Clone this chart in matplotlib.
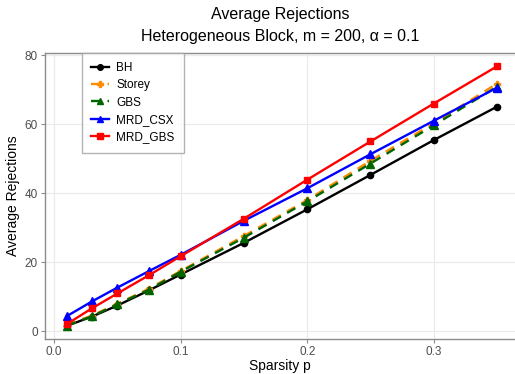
import matplotlib
matplotlib.use("Agg")
import matplotlib.pyplot as plt

plt.rcParams["font.family"] = ["Liberation Sans", "DejaVu Sans"]

# sparsity levels
sparsity = [0.01, 0.03, 0.05, 0.075, 0.1, 0.15, 0.2, 0.25, 0.3, 0.35]

# average rejections per method
bh      = [1.5, 4.2, 7.4, 11.8, 16.4, 25.6, 35.3, 45.3, 55.4, 65.1]
storey  = [1.8, 4.5, 7.9, 12.3, 17.4, 27.6, 38.0, 49.4, 60.3, 71.8]
gbs     = [1.6, 4.3, 7.8, 12.0, 17.2, 27.1, 37.6, 48.6, 59.7, 70.9]
mrd_csx = [4.3, 8.6, 12.6, 17.4, 22.1, 32.0, 41.4, 51.3, 61.0, 70.6]
mrd_gbs = [2.0, 6.6, 10.9, 16.2, 21.7, 32.6, 43.9, 55.0, 66.0, 76.8]

x_ticks = [0.0, 0.1, 0.2, 0.3]
y_ticks = [0, 20, 40, 60, 80]

fig = plt.figure(figsize=(5.15, 3.74), dpi=100)
ax = fig.add_axes([45 / 515, 1 - 339 / 374, 470 / 515, (339 - 52.5) / 374])

series = [
    ("BH", bh, "black", "-", "o", 4.5),
    ("Storey", storey, "#FF8C00", "--", "P", 4.5),
    ("GBS", gbs, "#006400", "--", "^", 5.5),
    ("MRD_CSX", mrd_csx, "#0000FF", "-", "^", 5.5),
    ("MRD_GBS", mrd_gbs, "#FF0000", "-", "s", 5),
]
for name, vals, col, ls, mk, ms in series:
    ax.plot(sparsity, vals, color=col, linestyle=ls, marker=mk, markersize=ms,
            linewidth=1.7, label=name, dashes=(4, 3) if ls == "--" else (None, None))

ax.set_xlim(-9 / 1266, 461 / 1266)
ax.set_ylim(-2.3, 80.8)
ax.set_xticks(x_ticks)
ax.set_xticklabels(["0.0", "0.1", "0.2", "0.3"])
ax.set_yticks(y_ticks)

ax.grid(True, color="#ebebeb", linewidth=0.9)
ax.set_axisbelow(True)
for side in ["left", "bottom", "top"]:
    ax.spines[side].set_color("#8c8c8c")
    ax.spines[side].set_linewidth(1.0)
ax.spines["right"].set_visible(False)
ax.tick_params(colors="#8c8c8c", labelcolor="#4d4d4d", labelsize=8.5,
               length=3, pad=2)

ax.set_xlabel("Sparsity p", fontsize=10, labelpad=1)
ax.set_ylabel("Average Rejections", fontsize=10)
ax.yaxis.set_label_coords(-25 / 470, 0.5)
fig.text(280 / 515, 1 - 14 / 374, "Average Rejections", ha="center",
         va="center", fontsize=11.5)
fig.text(280 / 515, 1 - 37 / 374, "Heterogeneous Block, m = 200, α = 0.1",
         ha="center", va="center", fontsize=11.5)

leg = ax.legend(loc="upper left", bbox_to_anchor=(37 / 470, 1.0), fontsize=8.5,
                frameon=True, fancybox=False, handlelength=1.5, borderpad=0.8,
                labelspacing=0.45, handletextpad=0.6, borderaxespad=0,
                markerscale=0.9)
leg.get_frame().set_edgecolor("#a0a0a0")
leg.get_frame().set_linewidth(1.0)

fig.savefig("out.png", dpi=100)
